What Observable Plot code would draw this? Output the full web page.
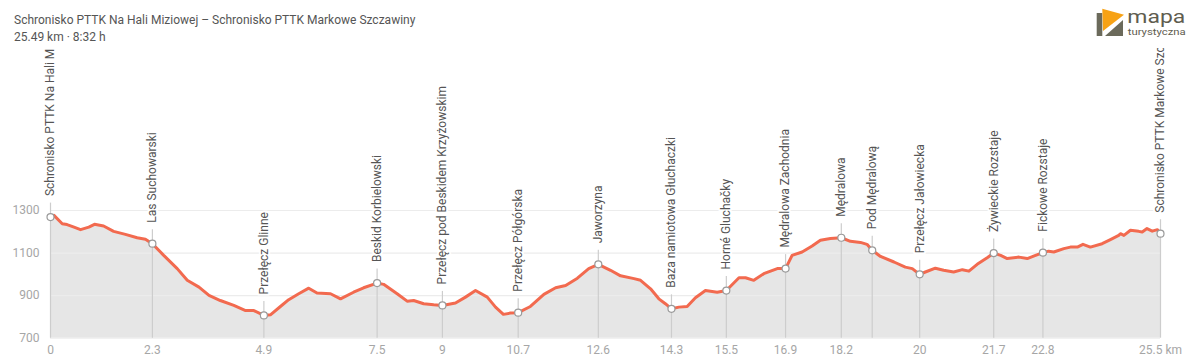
<!DOCTYPE html>
<html>
<head>
<meta charset="utf-8">
<script src="https://cdn.jsdelivr.net/npm/d3@7"></script>
<script src="https://cdn.jsdelivr.net/npm/@observablehq/plot@0.6"></script>
<style>
  html, body { margin: 0; padding: 0; background: #fff; }
  body { width: 1200px; height: 362px; overflow: hidden; font-family: Roboto, "Noto Sans", sans-serif; }
  #header { position: relative; height: 48px; box-sizing: border-box; padding: 11.5px 0 0 14px; font-size: 12px; line-height: 17px; color: #555; }
  #logo { position: absolute; left: 1090px; top: 4px; }
  #chart svg { display: block; }
</style>
</head>
<body>
<div id="header">
  <div id="title">Schronisko PTTK Na Hali Miziowej – Schronisko PTTK Markowe Szczawiny</div>
  <div id="subtitle">25.49 km · 8:32 h</div>
  <svg id="logo" width="105" height="38" viewBox="0 0 105 38">
    <rect x="6.7" y="9" width="26.3" height="23" fill="#6b6a5b"/>
    <polygon points="12.3,9 33,9 33,16 15,32 12.3,32" fill="#fff"/>
    <polygon points="12.3,4.7 34,10.7 13,27" fill="#f7a215"/>
    <text x="37.3" y="18.7" font-family="Roboto, sans-serif" font-size="18" textLength="58" lengthAdjust="spacingAndGlyphs" fill="#5f5d4f">mapa</text>
    <text x="37.7" y="31" font-family="Roboto, sans-serif" font-size="9.5" textLength="58" lengthAdjust="spacingAndGlyphs" fill="#5f5d4f">turystyczna</text>
  </svg>
</div>
<div id="chart"></div>
<script>
// Elevation profile: distance (km) and elevation (m)
const profileKm = [0, 0.08, 0.27, 0.38, 0.54, 0.69, 0.88, 1.01, 1.22, 1.45, 1.72, 1.99, 2.18, 2.34, 2.60, 2.91, 3.14, 3.41, 3.64, 3.90, 4.21, 4.48, 4.67, 4.90, 5.05, 5.28, 5.47, 5.70, 5.93, 6.12, 6.43, 6.66, 6.96, 7.19, 7.50, 7.65, 7.96, 8.19, 8.34, 8.57, 8.80, 9.00, 9.30, 9.53, 9.76, 10.03, 10.22, 10.40, 10.56, 10.74, 11.02, 11.33, 11.60, 11.83, 12.10, 12.36, 12.58, 12.86, 13.09, 13.40, 13.55, 13.78, 13.97, 14.12, 14.26, 14.43, 14.62, 14.81, 15.04, 15.31, 15.52, 15.81, 15.96, 16.15, 16.38, 16.69, 16.88, 17.03, 17.26, 17.49, 17.68, 17.91, 18.16, 18.37, 18.60, 18.75, 18.87, 19.06, 19.37, 19.63, 19.79, 19.96, 20.09, 20.32, 20.51, 20.74, 20.94, 21.09, 21.28, 21.51, 21.66, 21.82, 21.97, 22.24, 22.43, 22.62, 22.79, 22.92, 23.04, 23.27, 23.42, 23.58, 23.71, 23.88, 24.15, 24.34, 24.53, 24.57, 24.65, 24.80, 24.99, 25.07, 25.18, 25.30, 25.42, 25.49];
const profileEle = [1269, 1277, 1238, 1234, 1222, 1210, 1222, 1235, 1227, 1202, 1188, 1172, 1165, 1144, 1089, 1027, 972, 940, 901, 877, 854, 830, 830, 807, 810, 849, 881, 909, 935, 912, 909, 885, 916, 937, 959, 953, 909, 874, 877, 862, 857, 854, 865, 893, 924, 893, 846, 812, 818, 820, 849, 906, 937, 948, 982, 1027, 1047, 1019, 993, 980, 972, 932, 885, 862, 838, 846, 849, 890, 924, 916, 924, 984, 984, 972, 1003, 1027, 1027, 1089, 1105, 1133, 1160, 1168, 1172, 1155, 1150, 1141, 1113, 1084, 1058, 1034, 1027, 1000, 1011, 1029, 1019, 1011, 1022, 1015, 1047, 1078, 1100, 1089, 1074, 1081, 1074, 1089, 1102, 1109, 1105, 1121, 1128, 1128, 1141, 1128, 1144, 1163, 1183, 1191, 1183, 1207, 1202, 1199, 1215, 1203, 1210, 1191];

// Waypoints
const waypointNames = ["Schronisko PTTK Na Hali Miziowej", "Las Suchowarski", "Przełęcz Glinne", "Beskid Korbielowski", "Przełęcz pod Beskidem Krzyżowskim", "Przełęcz Półgórska", "Jaworzyna", "Baza namiotowa Głuchaczki", "Horné Gluchačky", "Mędralowa Zachodnia", "Mędralowa", "Pod Mędralową", "Przełęcz Jałowiecka", "Żywieckie Rozstaje", "Fickowe Rozstaje", "Schronisko PTTK Markowe Szczawiny"];
const waypointKm = [0, 2.34, 4.90, 7.50, 9.00, 10.74, 12.58, 14.26, 15.52, 16.88, 18.16, 18.87, 19.96, 21.66, 22.79, 25.49];
const waypointEle = [1269, 1144, 807, 959, 854, 820, 1047, 838, 924, 1027, 1172, 1113, 1000, 1100, 1102, 1191];

// Axis ticks
const xTickKm = [0, 2.34, 4.90, 7.50, 9.00, 10.74, 12.58, 14.26, 15.52, 16.88, 18.16, 19.96, 21.66, 22.79, 25.49];
const xTickLabels = ["0", "2.3", "4.9", "7.5", "9", "10.7", "12.6", "14.3", "15.5", "16.9", "18.2", "20", "21.7", "22.8", "25.5 km"];
const yTicks = [700, 900, 1100, 1300];

const profile = profileKm.map((km, i) => ({km, ele: profileEle[i]}));
const waypoints = waypointNames.map((name, i) => ({name, km: waypointKm[i], ele: waypointEle[i]}));
const xLabelMap = new Map(xTickKm.map((k, i) => [k, xTickLabels[i]]));

const chart = Plot.plot({
  width: 1200,
  height: 314,
  marginLeft: 50,
  marginRight: 40,
  marginTop: 162,
  marginBottom: 24.3,
  x: {domain: [0, 25.49]},
  y: {domain: [700, 1300]},
  style: {fontFamily: "Roboto, sans-serif", fontSize: "12px", color: "#a6a6a6", background: "#fff"},
  marks: [
    Plot.areaY(profile, {x: "km", y1: 700, y2: "ele", fill: "#e6e6e6"}),
    Plot.gridY(yTicks, {stroke: "#ececec", strokeOpacity: 1, strokeWidth: 1.2}),
    Plot.ruleX(waypoints, {x: "km", y1: "ele", y2: 700, insetTop: -14, stroke: "#cdcdcd", strokeWidth: 1.2}),
    Plot.line(profile, {x: "km", y: "ele", stroke: "#f26a4f", strokeWidth: 3, strokeLinejoin: "round", strokeLinecap: "round"}),
    Plot.dot(waypoints, {x: "km", y: "ele", r: 3.5, fill: "#fff", stroke: "#9a9a9a", strokeWidth: 1.2}),
    Plot.axisY(yTicks, {tickSize: 0, tickPadding: 11, label: null, fontSize: 12, tickFormat: d => String(d)}),
    Plot.axisX(xTickKm, {tickSize: 0, tickPadding: 7, label: null, fontSize: 12, tickFormat: d => xLabelMap.get(d)}),
    Plot.text(waypoints, {x: "km", y: "ele", text: "name", rotate: -90, textAnchor: "start", dy: -21, fill: "#555", stroke: "#fff", strokeWidth: 4, fontSize: 12})
  ]
});
document.getElementById("chart").appendChild(chart);
</script>
</body>
</html>
